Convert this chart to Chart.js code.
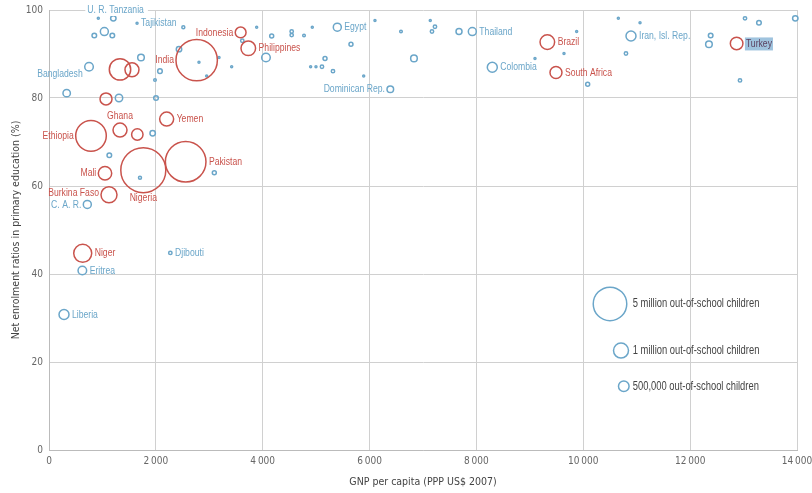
<!DOCTYPE html>
<html>
<head>
<meta charset="utf-8">
<script src="https://cdn.jsdelivr.net/npm/chart.js@4"></script>
<style>
  html, body { margin: 0; padding: 0; background: #fff; }
  #wrap { width: 812px; height: 493px; }
</style>
</head>
<body>
<div id="wrap"><canvas id="chart" width="812" height="493"></canvas></div>
<script>
// countries ('' = unlabelled point)
var names = ['U. R. Tanzania', '', 'Tajikistan', '', '', '', '', 'Indonesia', '', '', '', '', '',
    'Philippines', '', 'India', '', '', '', '', '', '', 'Bangladesh', '', '', '', '', '', '', '', '',
    'Ghana', '', 'Yemen', '', 'Ethiopia', '', 'Mali', 'Nigeria', '', 'Pakistan', '', 'Burkina Faso',
    'C. A. R.', 'Niger', 'Eritrea', 'Djibouti', 'Liberia', 'Egypt', '', '', '', '', '', '', '', '', '',
    'Dominican Rep.', '', '', '', '', '', '', '', 'Thailand', 'Colombia', '', 'Brazil', '', '',
    'South Africa', '', '', '', 'Iran, Isl. Rep.', '', '', '', 'Turkey', '', '', '', ''];
// GNP per capita (PPP US$ 2007)
var gnp = [923, 1204, 1648, 2514, 1036, 848, 1185, 3587, 3618, 3887, 4168, 4542, 4542,
    3730, 4061, 2764, 2807, 2951, 3182, 3419, 2433, 1722, 749, 1329, 1553, 2077, 1984, 331, 1067, 1310, 2003,
    1329, 1653, 2202, 1940, 786, 1129, 1048, 1765, 1703, 2558, 3094, 1123,
    717, 631, 624, 2271, 281, 5396, 4928, 4773, 5652, 5166, 4897, 4997, 5109, 5315, 5890,
    6388, 6101, 6588, 6831, 7136, 7224, 7168, 7674, 7923, 8297, 9096, 9327, 9876, 9639,
    9489, 10082, 10656, 11062, 10893, 10799, 12384, 12352, 12870, 13027, 13288, 13968, 12933];
// net enrolment ratio in primary education (%)
var ner = [98.1, 98.1, 97.0, 96.1, 95.1, 94.2, 94.2, 94.9, 93.0, 96.1, 94.1, 95.1, 94.3,
    91.3, 89.2, 88.6, 88.1, 85.0, 89.2, 87.1, 91.1, 89.2, 87.1, 86.5, 86.4, 86.1, 84.1, 81.1, 79.8, 80.0, 80.0,
    72.7, 71.7, 75.2, 72.0, 71.4, 67.0, 62.9, 63.6, 61.9, 65.5, 63.0, 58.0,
    55.8, 44.7, 40.8, 44.8, 30.8, 96.1, 96.1, 94.2, 92.2, 89.0, 87.1, 87.1, 87.1, 86.1, 85.0,
    82.0, 97.6, 95.1, 89.0, 97.6, 96.2, 95.1, 95.1, 95.1, 87.0, 89.0, 92.7, 95.1, 90.1,
    85.8, 83.1, 98.1, 97.1, 94.1, 90.1, 94.2, 92.2, 92.4, 98.1, 97.1, 98.1, 84.0];
// out-of-school children (thousands)
var outOfSchool = [18, 130, 18, 40, 285, 94, 94, 520, 51, 18, 71, 51, 51,
    949, 329, 7627, 18, 18, 18, 18, 130, 194, 329, 2038, 872, 94, 30, 244, 640, 244, 94,
    872, 578, 872, 130, 4167, 94, 800, 9011, 40, 7335, 71, 1139,
    285, 1442, 329, 51, 445, 285, 18, 30, 71, 71, 18, 18, 51, 51, 18,
    194, 18, 30, 194, 18, 51, 51, 160, 285, 445, 18, 949, 18, 18,
    640, 71, 18, 18, 445, 51, 94, 194, 706, 51, 94, 130, 51];
// size key
var keyLabels = ['5 million out-of-school children', '1 million out-of-school children', '500,000 out-of-school children'];
var keyValues = [5000, 1000, 500];
var keyGnp = [10500, 10706, 10758];
var keyNer = [33.2, 22.6, 14.5];

var RED = '#c9534c';
var BLUE = '#6ba6c9';
var FONT = "'DejaVu Sans Condensed', 'Liberation Sans Narrow', 'Liberation Sans', sans-serif";
var LABEL_FONT = "11.5px 'Liberation Sans', Arial, sans-serif";
var KEY_FONT = "12.5px 'Liberation Sans', Arial, sans-serif";
var SQUEEZE = 0.75;

function radius(n) { return 0.237 * Math.sqrt(n); }

var big = [], small = [];
for (var i = 0; i < names.length; i++) {
    var pt = { x: gnp[i], y: ner[i], r: radius(outOfSchool[i]), name: names[i] };
    if (outOfSchool[i] >= 500) big.push(pt); else small.push(pt);
}
var keyPts = keyValues.map(function(v, i) {
    return { x: keyGnp[i], y: keyNer[i], r: radius(v), name: keyLabels[i] };
});

// where each label sits relative to its bubble
var labelPos = {
    'U. R. Tanzania': 'top', 'Tajikistan': 'right', 'Indonesia': 'left', 'Philippines': 'right',
    'India': 'left', 'Bangladesh': 'leftlow', 'Ghana': 'above', 'Yemen': 'right', 'Ethiopia': 'left',
    'Mali': 'left', 'Nigeria': 'below', 'Pakistan': 'right', 'Burkina Faso': 'lefthigh', 'C. A. R.': 'left',
    'Niger': 'right', 'Eritrea': 'right', 'Djibouti': 'right', 'Liberia': 'right', 'Egypt': 'right',
    'Dominican Rep.': 'left', 'Thailand': 'right', 'Colombia': 'right', 'Brazil': 'right',
    'South Africa': 'right', 'Iran, Isl. Rep.': 'right', 'Turkey': 'right'
};

// condensed text: squeeze horizontally around the anchor
function squeezedText(ctx, txt, x, y, align) {
    ctx.save();
    ctx.translate(x, y);
    ctx.scale(SQUEEZE, 1);
    ctx.textAlign = align;
    ctx.fillText(txt, 0, 0);
    ctx.restore();
}

var labelPlugin = {
    id: 'bubbleLabels',
    afterDatasetsDraw: function(chart) {
        var ctx = chart.ctx;
        ctx.save();
        ctx.textBaseline = 'middle';
        chart.data.datasets.forEach(function(ds, di) {
            var meta = chart.getDatasetMeta(di);
            var keyX = null;
            meta.data.forEach(function(el, j) {
                var p = ds.data[j];
                if (!p.name) return;
                var r = p.r;
                var x = el.x, y = el.y;
                var col = ds.borderColor;
                if (ds.isKey) {
                    if (keyX === null) keyX = x + r + 6;
                    ctx.font = KEY_FONT;
                    ctx.fillStyle = '#444';
                    squeezedText(ctx, p.name, keyX, y, 'left');
                    return;
                }
                ctx.font = LABEL_FONT;
                var pos = labelPos[p.name] || 'right';
                var w = ctx.measureText(p.name).width * SQUEEZE;
                if (pos === 'top') {
                    var ty = chart.chartArea.top;
                    ctx.fillStyle = '#fff';
                    ctx.fillRect(x - 13, ty - 6, w + 6, 12);
                    ctx.fillStyle = col;
                    squeezedText(ctx, p.name, x - 11, ty, 'left');
                } else if (pos === 'right') {
                    if (p.name === 'Turkey') {
                        ctx.fillStyle = '#9fc3de';
                        ctx.fillRect(x + r + 2, y - 6, w + 2, 13);
                        ctx.fillStyle = '#5a3f5e';
                    } else {
                        ctx.fillStyle = col;
                    }
                    squeezedText(ctx, p.name, x + r + 3, y, 'left');
                } else if (pos === 'left' || pos === 'leftlow' || pos === 'lefthigh') {
                    var dy = pos === 'leftlow' ? 7 : (pos === 'lefthigh' ? -2 : 0);
                    ctx.fillStyle = col;
                    squeezedText(ctx, p.name, x - r - 2, y + dy, 'right');
                } else if (pos === 'above') {
                    ctx.fillStyle = col;
                    squeezedText(ctx, p.name, x, y - r - 7, 'center');
                } else if (pos === 'below') {
                    ctx.fillStyle = col;
                    squeezedText(ctx, p.name, x, y + r + 5, 'center');
                }
            });
        });
        ctx.restore();
    }
};

var ctx = document.getElementById('chart').getContext('2d');
var chart = new Chart(ctx, {
    type: 'bubble',
    data: {
        datasets: [{
            label: 'over 500,000',
            data: big,
            borderColor: RED,
            backgroundColor: 'rgba(0,0,0,0)',
            borderWidth: 1.5,
            clip: false
        }, {
            label: 'under 500,000',
            data: small,
            borderColor: BLUE,
            backgroundColor: 'rgba(0,0,0,0)',
            borderWidth: 1.5,
            clip: false
        }, {
            label: 'key',
            isKey: true,
            data: keyPts,
            borderColor: BLUE,
            backgroundColor: 'rgba(0,0,0,0)',
            borderWidth: 1.5,
            clip: false
        }]
    },
    options: {
        responsive: false,
        animation: false,
        layout: { autoPadding: false, padding: { top: 10, right: 15, left: 0, bottom: 0 } },
        plugins: {
            legend: { display: false },
            tooltip: { enabled: false }
        },
        scales: {
            x: {
                type: 'linear',
                min: 0,
                max: 14000,
                afterFit: function(scale) {
                    scale.height = 43;
                    scale.paddingLeft = 0;
                    scale.paddingRight = 0;
                },
                ticks: {
                    stepSize: 2000,
                    maxRotation: 0,
                    color: '#666',
                    padding: 5,
                    font: { family: FONT, size: 10 },
                    callback: function(v) { return v === 0 ? '0' : String(v).replace(/\B(?=(\d{3})+(?!\d))/g, '\u2009'); }
                },
                grid: { color: '#d0d0d0', lineWidth: 1, drawTicks: false },
                border: { color: '#bbb' },
                title: {
                    display: true,
                    text: 'GNP per capita (PPP US$ 2007)',
                    color: '#444',
                    font: { family: FONT, size: 10.5 },
                    padding: { top: 7 }
                }
            },
            y: {
                type: 'linear',
                min: 0,
                max: 100,
                afterFit: function(scale) {
                    scale.width = 49;
                    scale.paddingTop = 0;
                    scale.paddingBottom = 0;
                },
                ticks: {
                    stepSize: 20,
                    color: '#666',
                    padding: 6,
                    font: { family: FONT, size: 10 }
                },
                grid: { color: '#d0d0d0', lineWidth: 1, drawTicks: false },
                border: { color: '#bbb' },
                title: {
                    display: true,
                    text: 'Net enrolment ratios in primary education (%)',
                    color: '#444',
                    font: { family: FONT, size: 10.5 },
                    padding: { top: 10, bottom: 4 }
                }
            }
        }
    },
    plugins: [labelPlugin]
});
</script>
</body>
</html>
